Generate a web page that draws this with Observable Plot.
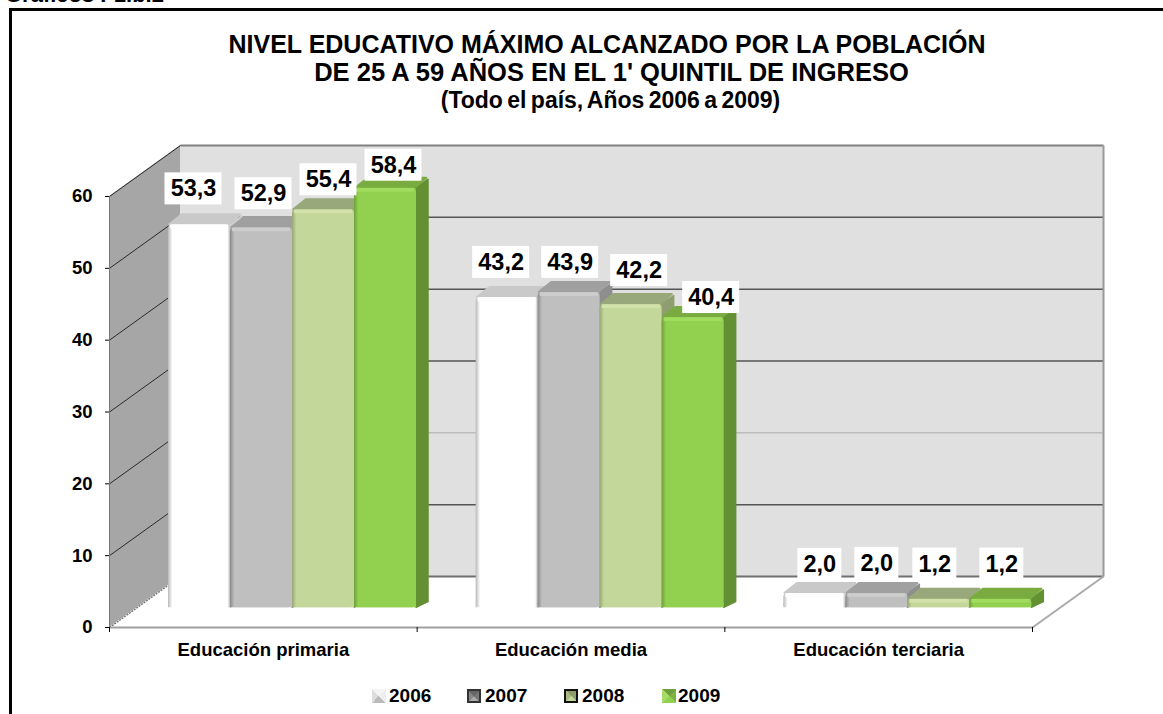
<!DOCTYPE html>
<html><head><meta charset="utf-8">
<script src="https://cdn.jsdelivr.net/npm/d3@7"></script>
<script src="https://cdn.jsdelivr.net/npm/@observablehq/plot@0.6"></script>
<style>
html,body{margin:0;padding:0;background:#fff;overflow:hidden}
#page{position:relative;width:1163px;height:714px;overflow:hidden;font-family:"Liberation Sans",Arial,sans-serif;font-weight:bold;color:#000}
#chart{position:absolute;left:0;top:0}
#chart svg{display:block;background:transparent}
.t{position:absolute;white-space:nowrap;line-height:1}
.c{left:0;text-align:center}
#frameT{position:absolute;left:9px;top:8px;right:0;height:3px;background:#000}
#frameL{position:absolute;left:9px;top:8px;bottom:0;width:3px;background:#000}
.sw{position:absolute;top:689px;width:14px;height:14px}
.lg{position:absolute;top:687px;font-size:19px;line-height:18px}
</style></head><body>
<div id="page">
<div id="chart"></div>
<div id="frameT"></div><div id="frameL"></div>
<div class="t" style="left:5px;top:-16px;font-size:22px">Gráficos I-1.b.2</div>
<div class="t c" id="t1" style="width:1214px;top:32px;font-size:25px">NIVEL EDUCATIVO MÁXIMO ALCANZADO POR LA POBLACIÓN</div>
<div class="t c" id="t2" style="width:1223px;top:60px;font-size:25.5px">DE 25 A 59 AÑOS EN EL 1' QUINTIL DE INGRESO</div>
<div class="t c" id="t3" style="width:1221px;top:89px;font-size:23px;word-spacing:-2px">(Todo el país, Años 2006 a 2009)</div>
<div id="legend"></div>
</div>
<script>
const categories = ["Educación primaria", "Educación media", "Educación terciaria"];
const years = ["2006", "2007", "2008", "2009"];
const values2006 = [53.3, 43.2, 2.0];
const values2007 = [52.9, 43.9, 2.0];
const values2008 = [55.4, 42.2, 1.2];
const values2009 = [58.4, 40.4, 1.2];
const yTicks = [0, 10, 20, 30, 40, 50, 60];
const labels = [["53,3","43,2","2,0"],["52,9","43,9","2,0"],["55,4","42,2","1,2"],["58,4","40,4","1,2"]];

// look of each series
const front = ["#ffffff", "#bfbfbf", "#c4d79b", "#92d050"];
const edge  = ["#b8b8b8", "#8a8a8a", "#97a872", "#6f9f3a"];
const shine = ["#ffffff", "#cdcdcd", "#d3e2aa", "#a1dc5e"];
const topF  = ["#c9c9c9", "#a0a0a0", "#98a87a", "#79ab40"];
const sideF = ["#cfcfcf", "#8e8e8e", "#8f9e6e", "#629033"];

// layout in data units (x: category widths, y: value points)
const W = 1163, H = 714, left = 109, right = 1032, bottom = 627, top60 = 196;
const px = (right - left) / 3, py = (bottom - top60) / 60;
const wallX = 71 / px, wallY = 51 / py;
const barW = 62 / px, groupOff = 59 / px, lift = 2.75, dX = 12 / px, dY = 10 / py;
// label-placement nudges in pixels relative to the bar top
const nudgeX = [[-6,-6,5],[2,1,0],[5,8,-4],[8,18,1]];
const nudgeY = [[26,25,19],[24,20,20],[20,24,25],[13,10,25]];

const series = [values2006, values2007, values2008, values2009];
const bars = series.flatMap((vals, s) => vals.map((v, c) => ({
  s, c, v, x: c + groupOff + s * barW, label: labels[s][c]
})));
const quad = (id, fill, p) => [
  {id, fill, x1: p[0][0], y1: p[0][1], x2: p[3][0], y2: p[3][1]},
  {id, fill, x1: p[1][0], y1: p[1][1], x2: p[2][0], y2: p[2][1]}
];
const tops = bars.flatMap(b => quad("t" + b.s + b.c, topF[b.s], [
  [b.x + .004, b.v + lift], [b.x + barW - .004, b.v + lift],
  [b.x + barW + dX - .006, b.v + lift + dY], [b.x + dX + .006, b.v + lift + dY]]));
const sides = bars.flatMap(b => quad("s" + b.s + b.c, sideF[b.s], [
  [b.x + barW, b.v + lift], [b.x + barW + dX, b.v + lift + dY - .2],
  [b.x + barW + dX, lift + dY - .6], [b.x + barW, lift]]));
const wall = quad("w", "#a6a6a6", [[0, 60], [wallX, 60 + wallY], [wallX, wallY], [0, 0]]);
const grid = yTicks.slice(1, -1);

const defs = () => {
  const d = d3.create("svg:defs");
  front.forEach((f, i) => {
    const g = d.append("linearGradient").attr("id", "g" + i);
    [[0, edge[i]], [.07, f], [.96, f], [1, i ? f : edge[i]]].forEach(([o, c]) =>
      g.append("stop").attr("offset", o).attr("stop-color", c));
  });
  return d.node();
};

const barMarks = series.flatMap((_, s) => {
  const data = bars.filter(b => b.s === s);
  return [
    Plot.rect(data, {x1: "x", x2: b => b.x + barW, y1: b => lift, y2: b => b.v + lift, fill: `url(#g${s})`, rx: 4}),
    Plot.rect(data, {x1: "x", x2: b => b.x + barW, y1: b => lift, y2: b => lift + .6, fill: `url(#g${s})`}),
    Plot.rect(data, {x1: b => b.x + 2 / px, x2: b => b.x + barW - 2 / px, y1: b => b.v + lift - .55, y2: b => b.v + lift - .05, fill: shine[s]})
  ];
});

const lx = b => b.x + barW / 2 + nudgeX[b.s][b.c] / px;
const ly = b => b.v + lift + dY + nudgeY[b.s][b.c] / py;
const halfW = b => (b.label.length > 3 ? 28.5 : 22) / px;

const plot = Plot.plot({
  width: W, height: H,
  marginLeft: left, marginRight: W - right, marginTop: top60, marginBottom: H - bottom,
  x: {domain: [0, 3]}, y: {domain: [0, 60]},
  color: {type: "identity"},
  style: {fontFamily: "'Liberation Sans',Arial,sans-serif", background: "transparent"},
  marks: [
    defs,
    Plot.rect([0], {x1: wallX, x2: 3 + wallX, y1: wallY, y2: 60 + wallY, fill: "#e0e0e0"}),
    Plot.area(wall, {x1: "x1", y1: "y1", x2: "x2", y2: "y2", fill: "fill", z: "id"}),
    Plot.link(grid.filter(t => t !== 20), {x1: wallX, x2: 3 + wallX, y1: t => t + wallY, y2: t => t + wallY, stroke: "#555", strokeWidth: 1.5}),
    Plot.link([20], {x1: wallX, x2: 3 + wallX, y1: t => t + wallY, y2: t => t + wallY, stroke: "#aaa", strokeWidth: 1}),
    Plot.link([60], {x1: wallX, x2: 3 + wallX, y1: t => t + wallY, y2: t => t + wallY, stroke: "#808080", strokeWidth: 2}),
    Plot.link([0], {x1: wallX, x2: 3 + wallX, y1: t => t + wallY, y2: t => t + wallY, stroke: "#707070", strokeWidth: 2}),
    Plot.link([0], {x1: 3 + wallX, x2: 3 + wallX, y1: wallY, y2: 60 + wallY, stroke: "#9a9a9a", strokeWidth: 2}),
    Plot.link(grid.concat(60), {x1: 0, x2: wallX, y1: t => t, y2: t => t + wallY, stroke: "#2a2a2a", strokeWidth: 1}),
    Plot.link([0], {x1: 0, x2: wallX, y1: 0, y2: wallY, stroke: "#777", strokeWidth: 1.5, strokeDasharray: "2 1"}),
    Plot.link([0], {x1: 0, x2: 0, y1: 0, y2: 60, stroke: "#777", strokeWidth: 1}),
    Plot.link([0], {x1: 0, x2: 3, y1: 0, y2: 0, stroke: "#a0a0a0", strokeWidth: 2}),
    Plot.link([0], {x1: 3, x2: 3 + wallX, y1: 0, y2: wallY, stroke: "#aaa", strokeWidth: 2}),
    Plot.area(sides, {x1: "x1", y1: "y1", x2: "x2", y2: "y2", fill: "fill", z: "id", stroke: "fill", strokeWidth: 1.5, strokeLinejoin: "round"}),
    Plot.area(tops, {x1: "x1", y1: "y1", x2: "x2", y2: "y2", fill: "fill", z: "id", stroke: "fill", strokeWidth: 2, strokeLinejoin: "round"}),
    ...barMarks,
    Plot.axisY({ticks: yTicks, tickSize: 4, tickPadding: 13, label: null, fontSize: 18.5, fontWeight: "bold", stroke: "#000", color: "#000"}),
    Plot.axisX({ticks: [0, 1, 2, 3], tickSize: 5, tickFormat: () => "", label: null, stroke: "#000"}),
    Plot.axisX({ticks: [.5, 1.5, 2.5], tickSize: 0, tickPadding: 15, label: null, tickFormat: d => categories[Math.floor(d)], fontSize: 18.5, fontWeight: "bold", color: "#000"}),
    Plot.rect(bars, {x1: b => lx(b) - halfW(b), x2: b => lx(b) + halfW(b), y1: b => ly(b) - 16 / py, y2: b => ly(b) + 16 / py, fill: "#fff"}),
    Plot.text(bars, {x: lx, y: ly, text: "label", fontSize: 23.5, fontWeight: "bold", fill: "#000"})
  ]
});
document.getElementById("chart").append(plot);

const swatches = [
  "conic-gradient(from 45deg,#eee 0 25%,#bbb 25% 50%,#ddd 50% 75%,#f4f4f4 75%)",
  "conic-gradient(from 45deg,#777 0 25%,#aaa 25% 50%,#888 50% 75%,#666 75%)",
  "conic-gradient(from 45deg,#8f9e6e 0 25%,#c4d79b 25% 50%,#a9ba80 50% 75%,#8a9a68 75%)",
  "conic-gradient(from 45deg,#7cb342 0 25%,#92d050 25% 50%,#a4dc66 50% 75%,#6f9f3a 75%)"
];
const swX = [372, 467, 564, 662], txX = [389, 485, 582, 678];
const border = ["none", "2px solid #333", "2px solid #111", "none"];
const lg = document.getElementById("legend");
years.forEach((y, i) => {
  const s = document.createElement("div");
  s.className = "sw"; s.style.left = swX[i] + "px"; s.style.background = swatches[i];
  s.style.border = border[i]; s.style.boxSizing = "border-box";
  const t = document.createElement("div");
  t.className = "lg"; t.style.left = txX[i] + "px"; t.textContent = y;
  lg.append(s, t);
});
</script>
</body></html>
